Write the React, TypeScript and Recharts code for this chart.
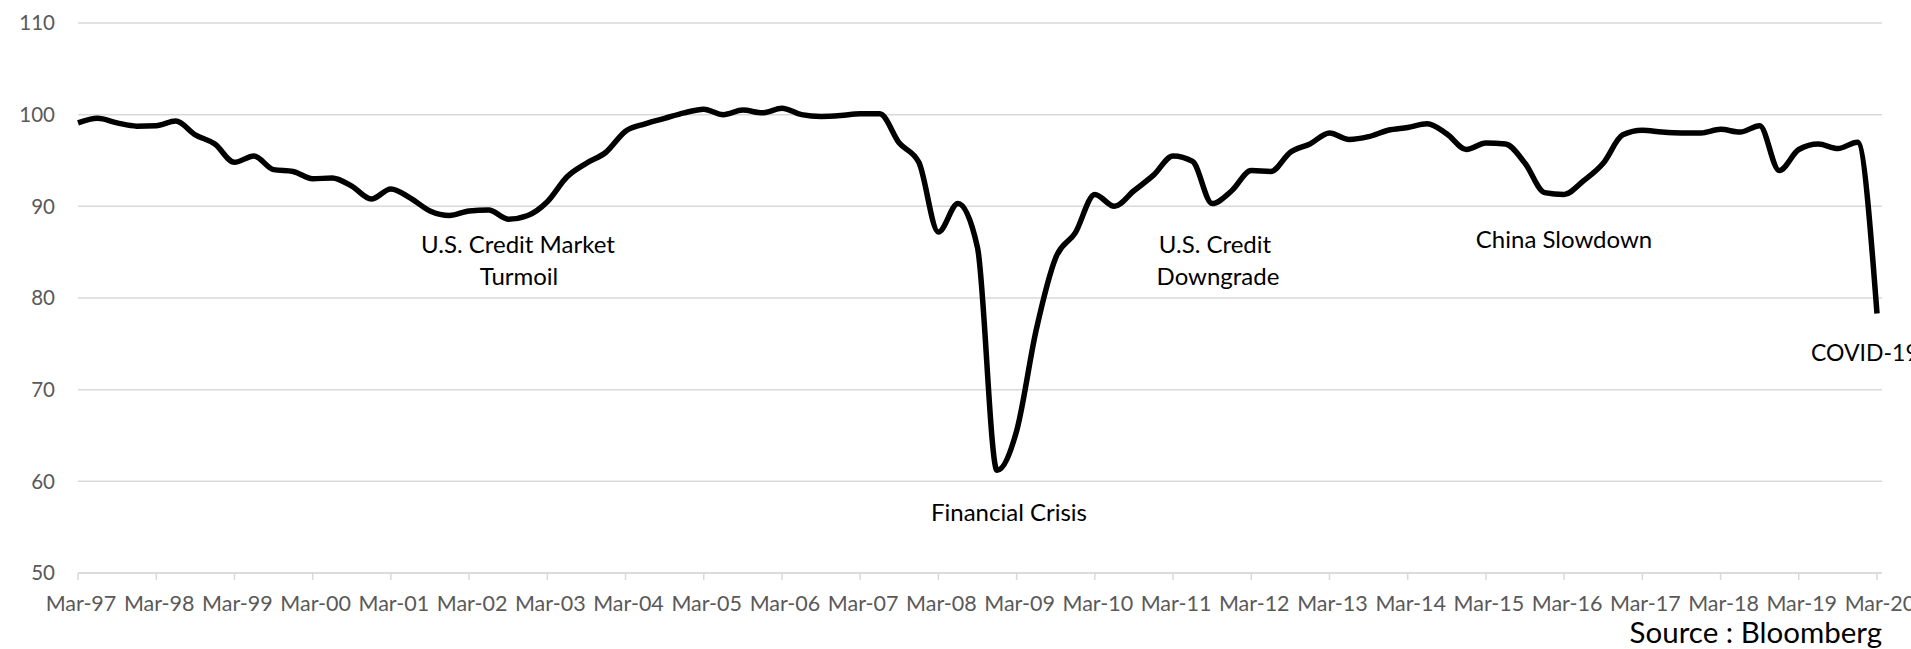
import React from "react";
import {
  LineChart,
  Line,
  XAxis,
  YAxis,
  CartesianGrid,
} from "recharts";

// quarterly points, Mar-97 .. Mar-20
const months = ["Mar", "Jun", "Sep", "Dec"];
const startYear = 1997;
const endYear = 2020;

const values = [
  99.1, 99.6, 99.1, 98.75, 98.8, 99.3, 97.8, 96.8, 94.8, 95.5,
  94.0, 93.8, 93.0, 93.1, 92.2, 90.8, 91.9, 90.9, 89.5, 89.0,
  89.5, 89.6, 88.6, 89.0, 90.5, 93.2, 94.7, 95.9, 98.2, 99.0,
  99.6, 100.2, 100.6, 100.0, 100.5, 100.2, 100.7, 100.0, 99.8, 99.9,
  100.1, 100.1, 96.9, 94.8, 87.2, 90.3, 85.5, 61.2, 65.5, 76.5,
  84.4, 87.1, 91.3, 90.0, 91.7, 93.4, 95.5, 94.9, 90.3, 91.7,
  93.9, 93.8, 95.9, 96.8, 98.0, 97.3, 97.6, 98.3, 98.6, 99.0,
  97.9, 96.2, 96.9, 96.8, 94.7, 91.5, 91.3, 92.8, 94.7, 97.8,
  98.3, 98.1, 98.0, 98.0, 98.4, 98.1, 98.8, 93.9, 96.2, 96.8,
  96.3, 97.0, 78.3,
];

const yTicks = [50, 60, 70, 80, 90, 100, 110];

const labels: string[] = [];
for (let y = startYear; y <= endYear; y++) {
  for (const m of months) {
    if (y === endYear && m !== "Mar") continue;
    labels.push(`${m}-${String(y % 100).padStart(2, "0")}`);
  }
}

const data = labels.map((date, i) => ({ date, value: values[i] }));

const notes = [
  { text: "U.S. Credit Market", x: 518, y: 253 },
  { text: "Turmoil", x: 519, y: 285 },
  { text: "Financial Crisis", x: 1009, y: 521 },
  { text: "U.S. Credit", x: 1215, y: 253 },
  { text: "Downgrade", x: 1218, y: 285 },
  { text: "China Slowdown", x: 1564, y: 248 },
];

const FONT = "Lato, 'Open Sans', sans-serif";

export default function App() {
  return (
    <div
      style={{
        position: "absolute",
        left: 0,
        top: 0,
        width: 1911,
        height: 649,
        background: "#fff",
      }}
    >
      <LineChart
        width={1911}
        height={649}
        data={data}
        margin={{ top: 23, right: 29, bottom: 36, left: 0 }}
      >
        <CartesianGrid vertical={false} stroke="#d9d9d9" strokeWidth={1.5} />
        <XAxis
          dataKey="date"
          interval={3}
          height={40}
          padding={{ left: 0, right: 5 }}
          axisLine={{ stroke: "#d9d9d9", strokeWidth: 1.5 }}
          tickLine={{ stroke: "#d9d9d9", strokeWidth: 1.5 }}
          tickSize={7}
          tickMargin={16}
          tick={{ fontSize: 21.5, fill: "#595959", fontFamily: FONT, dx: 3 }}
        />
        <YAxis
          domain={[50, 110]}
          ticks={yTicks}
          width={78}
          axisLine={false}
          tickLine={false}
          tickMargin={17}
          tick={{ fontSize: 20.5, fill: "#595959", fontFamily: FONT }}
        />
        <Line
          type="monotone"
          dataKey="value"
          stroke="#000"
          strokeWidth={5.5}
          dot={false}
          isAnimationActive={false}
        />
      </LineChart>

      <svg
        width={1911}
        height={649}
        style={{ position: "absolute", left: 0, top: 0, pointerEvents: "none" }}
      >
        {notes.map((n) => (
          <text
            key={n.text}
            x={n.x}
            y={n.y}
            textAnchor="middle"
            fontSize={24}
            fontFamily={FONT}
            fill="#000"
          >
            {n.text}
          </text>
        ))}
        <text x={1811} y={361} fontSize={23} fontFamily={FONT} fill="#000">
          COVID-19
        </text>
        <text
          x={1882}
          y={643}
          textAnchor="end"
          fontSize={29.5}
          fontFamily={FONT}
          fill="#000"
        >
          Source : Bloomberg
        </text>
      </svg>
    </div>
  );
}
